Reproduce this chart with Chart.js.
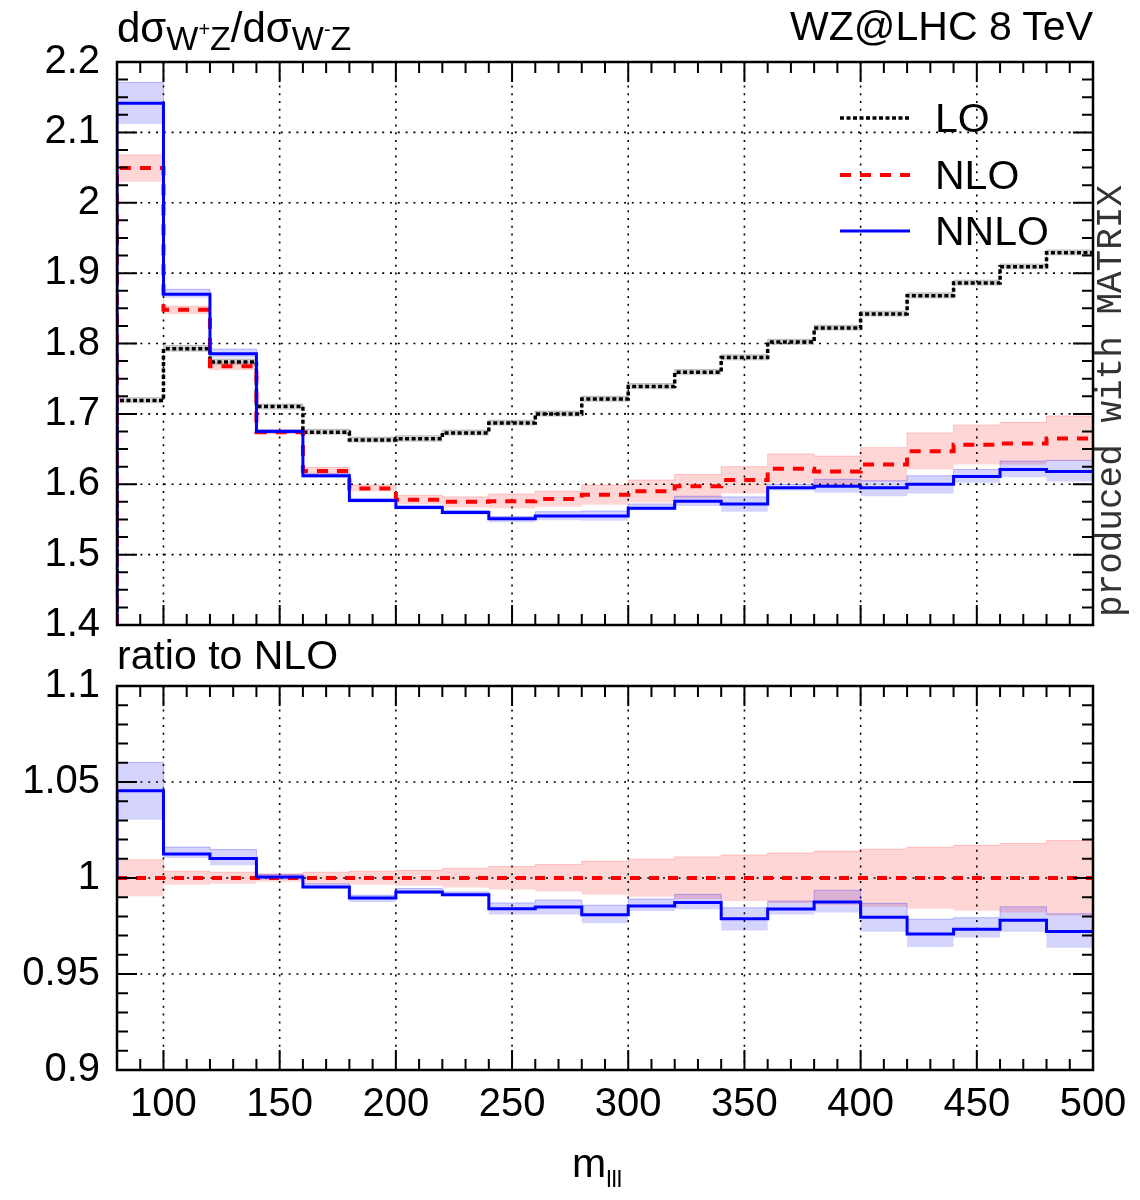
<!DOCTYPE html>
<html>
<head>
<meta charset="utf-8">
<script src="https://cdn.jsdelivr.net/npm/chart.js@4.4.1/dist/chart.umd.min.js"></script>
<style>
body { margin:0; background:#fff; width:1140px; height:1200px; position:relative; overflow:hidden;
       font-family:"Liberation Sans", Arial, sans-serif; }
.txt { position:absolute; color:#000; font-size:41px; line-height:40px; white-space:nowrap; }
.sb { font-size:34px; position:relative; top:8px; }
.sp { font-size:20px; position:relative; top:-14px; }
#topWrap { position:absolute; left:0; top:0; width:1140px; height:666px; }
#botWrap { position:absolute; left:0; top:640px; width:1140px; height:560px; }
#matrix { position:absolute; left:892px; top:381px; width:440px; height:40px; line-height:40px;
          text-align:center; font-family:"Liberation Mono", monospace; font-size:36px; color:#333;
          transform:rotate(-90deg); transform-origin:50% 50%; white-space:nowrap; }
</style>
</head>
<body>
<div id="topWrap"><canvas id="topChart" width="1140" height="666"></canvas></div>
<div id="botWrap"><canvas id="botChart" width="1140" height="560"></canvas></div>

<div class="txt" style="left:117px;top:8px;font-size:42px;">dσ<span class="sb">W<span class="sp">+</span>Z</span>/dσ<span class="sb">W<span class="sp">-</span>Z</span></div>
<div class="txt" style="right:47px;top:6px;">WZ@LHC 8 TeV</div>
<div class="txt" style="left:117px;top:635px;">ratio to NLO</div>
<div class="txt" style="left:572px;top:1143px;">m<span style="font-size:24px;position:relative;top:10px;">lll</span></div>
<div class="txt" style="left:935px;top:98px;">LO</div>
<div class="txt" style="left:935px;top:155px;">NLO</div>
<div class="txt" style="left:935px;top:211px;">NNLO</div>
<div id="matrix">produced with MATRIX</div>

<script>
// bin edges in m_lll (20 GeV bins)
var binEdges = [80,100,120,140,160,180,200,220,240,260,280,300,320,340,360,380,400,420,440,460,480,500];

// top panel: dσ(W+Z)/dσ(W-Z)
var loVal   = [1.719,1.7925,1.7736,1.7104,1.674,1.663,1.6645,1.673,1.687,1.700,1.721,1.739,1.759,1.780,1.802,1.822,1.842,1.868,1.886,1.909,1.929];
var loLow   = [1.715,1.788,1.769,1.706,1.670,1.659,1.660,1.669,1.683,1.696,1.717,1.735,1.755,1.776,1.798,1.818,1.838,1.864,1.882,1.905,1.925];
var loHigh  = [1.723,1.797,1.778,1.714,1.678,1.667,1.669,1.677,1.691,1.704,1.725,1.743,1.763,1.784,1.806,1.826,1.846,1.872,1.890,1.913,1.933];

var nloVal  = [2.0495,1.848,1.7675,1.674,1.619,1.594,1.578,1.575,1.576,1.579,1.585,1.590,1.597,1.606,1.622,1.618,1.628,1.647,1.656,1.658,1.665];
var nloLow  = [2.030,1.842,1.762,1.671,1.614,1.590,1.572,1.567,1.566,1.568,1.571,1.574,1.580,1.587,1.601,1.596,1.604,1.621,1.628,1.628,1.633];
var nloHigh = [2.068,1.853,1.773,1.677,1.624,1.599,1.584,1.582,1.586,1.590,1.599,1.606,1.614,1.625,1.643,1.640,1.652,1.673,1.684,1.688,1.697];

var nnloVal  = [2.1415,1.870,1.7854,1.675,1.612,1.577,1.567,1.560,1.551,1.555,1.555,1.566,1.576,1.572,1.595,1.597,1.595,1.600,1.611,1.621,1.618];
var nnloLow  = [2.112,1.865,1.780,1.672,1.609,1.574,1.564,1.557,1.546,1.549,1.548,1.563,1.569,1.561,1.591,1.588,1.583,1.587,1.602,1.610,1.604];
var nnloHigh = [2.171,1.877,1.792,1.678,1.615,1.580,1.570,1.563,1.554,1.561,1.562,1.572,1.583,1.582,1.600,1.607,1.605,1.612,1.621,1.633,1.634];

// bottom panel: ratio to NLO
var ratioNlo     = [1,1,1,1,1,1,1,1,1,1,1,1,1,1,1,1,1,1,1,1,1];
var ratioNloLow  = [0.9905,0.9965,0.997,0.998,0.997,0.9965,0.996,0.995,0.994,0.993,0.9913,0.9902,0.989,0.988,0.987,0.986,0.985,0.984,0.983,0.982,0.9805];
var ratioNloHigh = [1.0095,1.0035,1.003,1.002,1.003,1.0035,1.004,1.005,1.006,1.007,1.0087,1.0098,1.011,1.012,1.013,1.014,1.015,1.016,1.017,1.018,1.0195];
var ratioNnlo     = [1.0455,1.0125,1.0101,1.0005,0.9953,0.9896,0.9927,0.9913,0.984,0.9849,0.9809,0.9854,0.9873,0.9788,0.9839,0.9875,0.9795,0.9708,0.9733,0.978,0.9722];
var ratioNnloLow  = [1.0304,1.0104,1.0066,0.999,0.9945,0.9875,0.9917,0.9905,0.981,0.981,0.9764,0.9828,0.9837,0.9727,0.981,0.982,0.972,0.9641,0.969,0.972,0.9637];
var ratioNnloHigh = [1.0602,1.0161,1.0148,1.002,0.997,0.991,0.9945,0.9927,0.987,0.9885,0.9858,0.989,0.9915,0.9845,0.988,0.9936,0.9868,0.9785,0.9793,0.985,0.9814];

// axis ticks
var xTickVals = [100,150,200,250,300,350,400,450,500];
var xGrid = [100,150,200,250,300,350,400,450];
var topYGrid = [1.5,1.6,1.7,1.8,1.9,2.0,2.1];
var botYGrid = [0.95,1.0,1.05];

Chart.defaults.font.family = '"Liberation Sans", Arial, sans-serif';
Chart.defaults.color = '#000';

// histogram -> points for a stepped line (optionally start from the axis floor)
function steps(vals, startY) {
    var pts = [];
    if (startY !== undefined) pts.push({x: binEdges[0], y: startY});
    for (var i = 0; i < binEdges.length; i++) {
        pts.push({x: binEdges[i], y: vals[Math.min(i, vals.length - 1)]});
    }
    return pts;
}

function lineDs(data, color, width, dash, order) {
    return {data: data, borderColor: color, borderWidth: width, borderDash: dash,
            borderCapStyle: 'butt', stepped: true, pointRadius: 0, fill: false, order: order};
}
function bandLow(data) {
    return {data: steps(data), borderWidth: 0, borderColor: 'rgba(0,0,0,0)', stepped: true,
            pointRadius: 0, fill: false, order: 20};
}
function bandHigh(data, bg, edge) {
    return {data: steps(data), borderWidth: 1, borderColor: edge, backgroundColor: bg, stepped: true,
            pointRadius: 0, fill: '-1', order: 20};
}

// grid, frame and inward ticks
var framePlugin = {
    id: 'frame',
    beforeDatasetsDraw: function(chart, args, o) {
        var ctx = chart.ctx, a = chart.chartArea, xs = chart.scales.x, ys = chart.scales.y;
        ctx.save();
        ctx.strokeStyle = '#000';
        ctx.lineWidth = 1.6;
        ctx.setLineDash([2, 5.8]);
        o.gridX.forEach(function(v) {
            var px = xs.getPixelForValue(v);
            ctx.beginPath(); ctx.moveTo(px, a.top); ctx.lineTo(px, a.bottom); ctx.stroke();
        });
        o.gridY.forEach(function(v) {
            var py = ys.getPixelForValue(v);
            ctx.beginPath(); ctx.moveTo(a.left, py); ctx.lineTo(a.right, py); ctx.stroke();
        });
        ctx.restore();
    },
    afterDatasetsDraw: function(chart, args, o) {
        var ctx = chart.ctx, a = chart.chartArea, xs = chart.scales.x, ys = chart.scales.y;
        var major = 20, minor = 11;
        ctx.save();
        ctx.strokeStyle = '#000';
        ctx.lineWidth = 2;
        ctx.setLineDash([]);
        var n = Math.round((xs.max - xs.min) / o.xMinor);
        for (var k = 0; k <= n; k++) {
            var v = xs.min + k * o.xMinor;
            var len = (Math.abs(v / o.xMajor - Math.round(v / o.xMajor)) < 1e-6) ? major : minor;
            var px = xs.getPixelForValue(v);
            ctx.beginPath();
            ctx.moveTo(px, a.bottom); ctx.lineTo(px, a.bottom - len);
            ctx.moveTo(px, a.top); ctx.lineTo(px, a.top + len);
            ctx.stroke();
        }
        n = Math.round((ys.max - ys.min) / o.yMinor);
        for (k = 0; k <= n; k++) {
            v = ys.min + k * o.yMinor;
            len = (Math.abs(v / o.yMajor - Math.round(v / o.yMajor)) < 1e-6) ? major : minor;
            var py = ys.getPixelForValue(v);
            ctx.beginPath();
            ctx.moveTo(a.left, py); ctx.lineTo(a.left + len, py);
            ctx.moveTo(a.right, py); ctx.lineTo(a.right - len, py);
            ctx.stroke();
        }
        ctx.lineWidth = 2.5;
        ctx.strokeRect(a.left, a.top, a.right - a.left, a.bottom - a.top);
        ctx.restore();
    }
};

// legend samples in the top panel
var legendPlugin = {
    id: 'legendSamples',
    afterDatasetsDraw: function(chart) {
        var ctx = chart.ctx;
        var items = [
            {y: 118, color: '#000', w: 3.5, dash: [4, 2.5]},
            {y: 175, color: '#ff0000', w: 4, dash: [11, 9]},
            {y: 231, color: '#0000ff', w: 3, dash: []}
        ];
        ctx.save();
        items.forEach(function(it) {
            ctx.strokeStyle = it.color;
            ctx.lineWidth = it.w;
            ctx.setLineDash(it.dash);
            ctx.beginPath(); ctx.moveTo(840, it.y); ctx.lineTo(910, it.y); ctx.stroke();
        });
        ctx.restore();
    }
};

function fmt(v) { return String(Number(v.toFixed(3))); }

var topChart = new Chart(document.getElementById('topChart').getContext('2d'), {
    type: 'line',
    data: {
        datasets: [
            lineDs(steps(nnloVal, 1.4), '#0000ff', 3, [], 1),
            lineDs(steps(nloVal, 1.4), '#ff0000', 4, [11, 9], 2),
            lineDs(steps(loVal, 1.4), '#000000', 3.5, [4, 2.5], 3),
            bandLow(loLow), bandHigh(loHigh, 'rgba(0,0,0,0.16)', 'rgba(0,0,0,0.2)'),
            bandLow(nloLow), bandHigh(nloHigh, 'rgba(255,0,0,0.16)', 'rgba(255,0,0,0.2)'),
            bandLow(nnloLow), bandHigh(nnloHigh, 'rgba(0,0,255,0.17)', 'rgba(0,0,255,0.25)')
        ]
    },
    options: {
        responsive: false,
        animation: false,
        devicePixelRatio: 1,
        events: [],
        layout: {autoPadding: false, padding: {top: 62, right: 47, bottom: 16, left: 0}},
        plugins: {
            legend: {display: false},
            tooltip: {enabled: false},
            filler: {drawTime: 'beforeDatasetsDraw'},
            frame: {gridX: xGrid, gridY: topYGrid, xMinor: 10, xMajor: 50, yMinor: 0.025, yMajor: 0.1}
        },
        scales: {
            x: {type: 'linear', min: 80, max: 500, display: false},
            y: {
                min: 1.4, max: 2.2,
                grid: {display: false, drawTicks: false},
                border: {display: false},
                ticks: {stepSize: 0.1, padding: 17, font: {size: 40}, color: '#000',
                        callback: function(v) { return fmt(v); }},
                afterFit: function(s) { s.width = 117; }
            }
        }
    },
    plugins: [framePlugin, legendPlugin]
});

var botChart = new Chart(document.getElementById('botChart').getContext('2d'), {
    type: 'line',
    data: {
        datasets: [
            lineDs(steps(ratioNnlo, 1.0), '#0000ff', 3, [], 1),
            lineDs(steps(ratioNlo), '#ff0000', 4, [10, 9], 2),
            bandLow(ratioNloLow), bandHigh(ratioNloHigh, 'rgba(255,0,0,0.16)', 'rgba(255,0,0,0.2)'),
            bandLow(ratioNnloLow), bandHigh(ratioNnloHigh, 'rgba(0,0,255,0.17)', 'rgba(0,0,255,0.25)')
        ]
    },
    options: {
        responsive: false,
        animation: false,
        devicePixelRatio: 1,
        events: [],
        layout: {autoPadding: false, padding: {top: 46, right: 47, bottom: 0, left: 0}},
        plugins: {
            legend: {display: false},
            tooltip: {enabled: false},
            filler: {drawTime: 'beforeDatasetsDraw'},
            frame: {gridX: xGrid, gridY: botYGrid, xMinor: 10, xMajor: 50, yMinor: 0.01, yMajor: 0.05}
        },
        scales: {
            x: {
                type: 'linear', min: 80, max: 500,
                grid: {display: false, drawTicks: false},
                border: {display: false},
                ticks: {padding: 11, font: {size: 40}, color: '#000', autoSkip: false, maxRotation: 0},
                afterBuildTicks: function(s) {
                    s.ticks = xTickVals.map(function(v) { return {value: v}; });
                },
                afterFit: function(s) { s.height = 130; }
            },
            y: {
                min: 0.9, max: 1.1,
                grid: {display: false, drawTicks: false},
                border: {display: false},
                ticks: {stepSize: 0.05, padding: 17, font: {size: 40}, color: '#000',
                        callback: function(v) { return fmt(v); }},
                afterFit: function(s) { s.width = 117; }
            }
        }
    },
    plugins: [framePlugin]
});
</script>
</body>
</html>
